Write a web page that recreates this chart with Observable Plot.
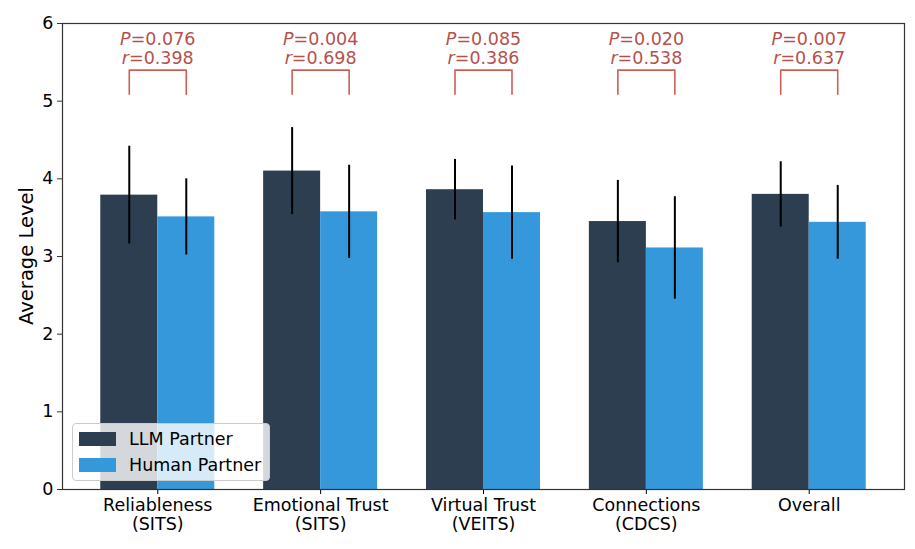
<!DOCTYPE html>
<html>
<head>
<meta charset="utf-8">
<script src="https://cdn.jsdelivr.net/npm/d3@7"></script>
<script src="https://cdn.jsdelivr.net/npm/@observablehq/plot@0.6"></script>
<style>
  html, body { margin: 0; padding: 0; background: #fff; }
  #chart { width: 915px; height: 549px; position: relative; }
  svg { font-family: "DejaVu Sans", sans-serif; }
</style>
</head>
<body>
<div id="chart"></div>
<script>
const categories = ["Reliableness\n(SITS)", "Emotional Trust\n(SITS)", "Virtual Trust\n(VEITS)", "Connections\n(CDCS)", "Overall"];
const series = ["LLM Partner", "Human Partner"];
const llmMean = [3.79, 4.10, 3.86, 3.45, 3.80];
const llmSd = [0.63, 0.56, 0.39, 0.53, 0.42];
const humanMean = [3.51, 3.575, 3.565, 3.11, 3.44];
const humanSd = [0.49, 0.60, 0.60, 0.66, 0.475];
const pValues = ["0.076", "0.004", "0.085", "0.020", "0.007"];
const rValues = ["0.398", "0.698", "0.386", "0.538", "0.637"];
const yTicks = [0, 1, 2, 3, 4, 5, 6];

const colors = { "LLM Partner": "#2c3e50", "Human Partner": "#3498db" };
const barW = 0.35;
const FS = 17.5;

const bars = [];
categories.forEach((c, i) => {
  bars.push({ i, s: "LLM Partner", x1: i - barW, x2: i, mean: llmMean[i], sd: llmSd[i] });
  bars.push({ i, s: "Human Partner", x1: i, x2: i + barW, mean: humanMean[i], sd: humanSd[i] });
});

const bracketLow = 5.09, bracketHigh = 5.40;
const brackets = categories.map((c, i) => [
  { i, x: i - barW / 2, y: bracketLow },
  { i, x: i - barW / 2, y: bracketHigh },
  { i, x: i + barW / 2, y: bracketHigh },
  { i, x: i + barW / 2, y: bracketLow }
]).flat();

const annP = categories.map((c, i) => ({ i, text: "P=" + pValues[i], y: 5.79 }));
const annR = categories.map((c, i) => ({ i, text: "r=" + rValues[i], y: 5.545 }));

const chart = Plot.plot({
  width: 915,
  height: 549,
  marginLeft: 62,
  marginRight: 11,
  marginTop: 23,
  marginBottom: 60,
  style: { fontFamily: "DejaVu Sans, sans-serif", fontSize: FS + "px", color: "#000", background: "#fff" },
  x: { domain: [-0.585, 4.585], label: null },
  y: { domain: [0, 6], label: null },
  marks: [
    Plot.rectY(bars, { x1: "x1", x2: "x2", y1: 0, y2: "mean", fill: d => colors[d.s] }),
    Plot.ruleX(bars, { x: d => (d.x1 + d.x2) / 2, y1: d => d.mean - d.sd, y2: d => d.mean + d.sd, stroke: "#000", strokeWidth: 2 }),
    Plot.line(brackets, { x: "x", y: "y", z: "i", stroke: "#cd5f55", strokeWidth: 1.6 }),
    Plot.text(annP, { x: "i", y: "y", text: "text", fill: "#b5514b", fontSize: FS }),
    Plot.text(annR, { x: "i", y: "y", text: "text", fill: "#b5514b", fontSize: FS }),
    Plot.axisY({ ticks: yTicks, tickFormat: d => String(d), tickSize: 5, tickPadding: 4, fontSize: FS, stroke: "#333", label: null }),
    Plot.axisX({ ticks: [0, 1, 2, 3, 4], tickFormat: d => categories[d], tickSize: 5, tickPadding: 3, fontSize: FS, lineHeight: 1.1, label: null }),
    Plot.frame({ stroke: "#333", strokeWidth: 1.2 })
  ]
});

// italicize P and r in annotations
const ns = "http://www.w3.org/2000/svg";
chart.querySelectorAll("text").forEach(t => {
  const s = t.textContent;
  if (/^[Pr]=0\.\d{3}$/.test(s)) {
    t.textContent = "";
    const a = document.createElementNS(ns, "tspan");
    a.setAttribute("font-style", "italic");
    a.textContent = s[0];
    const b = document.createElementNS(ns, "tspan");
    b.textContent = s.slice(1);
    t.appendChild(a);
    t.appendChild(b);
  }
});

// y-axis label
const lab = document.createElementNS(ns, "text");
lab.setAttribute("transform", "translate(33,256) rotate(-90)");
lab.setAttribute("text-anchor", "middle");
lab.setAttribute("font-size", "19.5");
lab.setAttribute("fill", "#000");
lab.textContent = "Average Level";
chart.appendChild(lab);

document.getElementById("chart").appendChild(chart);

// legend overlay
const leg = document.createElement("div");
leg.style.cssText = `position:absolute;left:72px;top:423px;width:198px;height:58px;background:rgba(255,255,255,0.8);border:1px solid #ccc;border-radius:4px;font-family:'DejaVu Sans',sans-serif;font-size:${FS}px;color:#000;box-sizing:border-box;`;
series.forEach((s, k) => {
  const row = document.createElement("div");
  row.style.cssText = `position:absolute;left:6px;top:${5 + k * 26}px;height:20px;display:flex;align-items:center;white-space:nowrap;`;
  const sw = document.createElement("span");
  sw.style.cssText = `display:inline-block;width:37px;height:14px;background:${colors[s]};margin-right:13px;`;
  const tx = document.createElement("span");
  tx.textContent = s;
  row.appendChild(sw);
  row.appendChild(tx);
  leg.appendChild(row);
});
document.getElementById("chart").appendChild(leg);
</script>
</body>
</html>
